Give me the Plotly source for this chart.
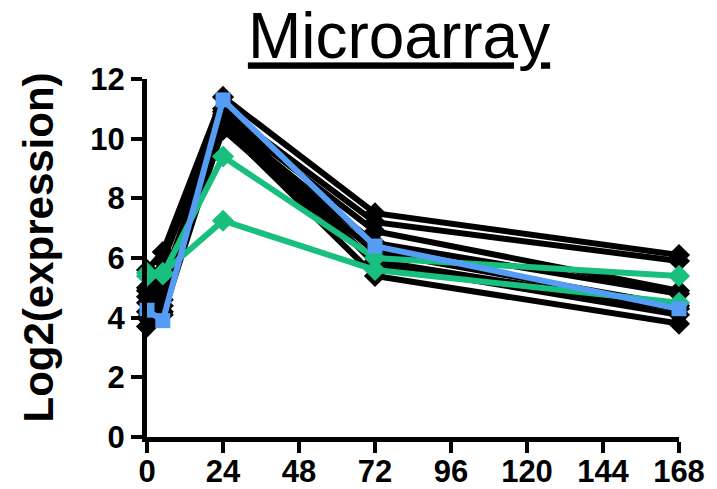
import plotly.graph_objects as go

hours = [0, 5, 24, 72, 168]

black_series = [
    [5.6, 6.2, 11.4, 7.5, 6.1],
    [5.0, 5.9, 11.0, 7.2, 5.9],
    [4.9, 5.2, 10.8, 6.9, 4.9],
    [4.7, 4.9, 10.6, 6.5, 4.8],
    [4.5, 4.6, 10.5, 6.2, 4.4],
    [4.2, 4.4, 10.3, 5.9, 4.3],
    [4.0, 4.2, 10.9, 5.8, 4.1],
    [3.7, 4.1, 10.4, 5.4, 3.8],
]
green_series = [
    [5.5, 5.45, 9.4, 6.0, 5.4],
    [5.4, 5.5, 7.25, 5.6, 4.5],
]
blue_series = [4.25, 3.9, 11.3, 6.4, 4.3]

x_ticks = [0, 24, 48, 72, 96, 120, 144, 168]
y_ticks = [0, 2, 4, 6, 8, 10, 12]

BLACK = "#000000"
GREEN = "#19BF7F"
BLUE = "#559CF5"

fig = go.Figure()
for ys in black_series:
    fig.add_trace(go.Scatter(x=hours, y=ys, mode="lines+markers",
                             line=dict(color=BLACK, width=6),
                             marker=dict(symbol="diamond", size=17, color=BLACK),
                             cliponaxis=False, showlegend=False))
for ys in green_series:
    fig.add_trace(go.Scatter(x=hours, y=ys, mode="lines+markers",
                             line=dict(color=GREEN, width=6),
                             marker=dict(symbol="diamond", size=17, color=GREEN),
                             cliponaxis=False, showlegend=False))
fig.add_trace(go.Scatter(x=hours, y=blue_series, mode="lines+markers",
                         line=dict(color=BLUE, width=6),
                         marker=dict(symbol="square", size=15, color=BLUE),
                         cliponaxis=False, showlegend=False))

tickfont = dict(family="Liberation Sans, Arial", size=31, color="black", weight="bold")

fig.update_layout(
    width=717, height=489,
    margin=dict(l=147, r=38, t=79, b=52),
    paper_bgcolor="white", plot_bgcolor="white",
    title=dict(text="<u>Microarray</u>", x=399 / 717, xref="container", xanchor="center",
               y=1 - 36 / 489, yref="container", yanchor="middle",
               font=dict(family="Liberation Sans, Arial", size=64, color="black")),
    xaxis=dict(range=[0, 168], tickvals=x_ticks, ticktext=[str(v) for v in x_ticks],
               showgrid=False, zeroline=False, showline=True, linewidth=5, linecolor="black",
               ticks="outside", ticklen=11, tickwidth=4, tickcolor="black",
               ticklabelstandoff=-8,
               tickfont=tickfont, automargin=False),
    yaxis=dict(range=[0, 12], tickvals=y_ticks, ticktext=[str(v) for v in y_ticks],
               showgrid=False, zeroline=False, showline=True, linewidth=5, linecolor="black",
               ticks="outside", ticklen=11, tickwidth=4, tickcolor="black",
               tickfont=tickfont, automargin=False),
    annotations=[dict(text="<b>Log2(expression)</b>", textangle=-90,
                      xref="paper", yref="paper", x=(38 - 147) / 532, y=(437 - 247.5) / 358,
                      xanchor="center", yanchor="middle", showarrow=False,
                      font=dict(family="Liberation Sans, Arial", size=42, color="black"))],
)

fig.write_html("out.html",
               config={"displayModeBar": False, "staticPlot": True},
               post_script="document.body.style.margin='0';document.body.style.padding='0';"
                           "document.body.style.overflow='hidden';")
